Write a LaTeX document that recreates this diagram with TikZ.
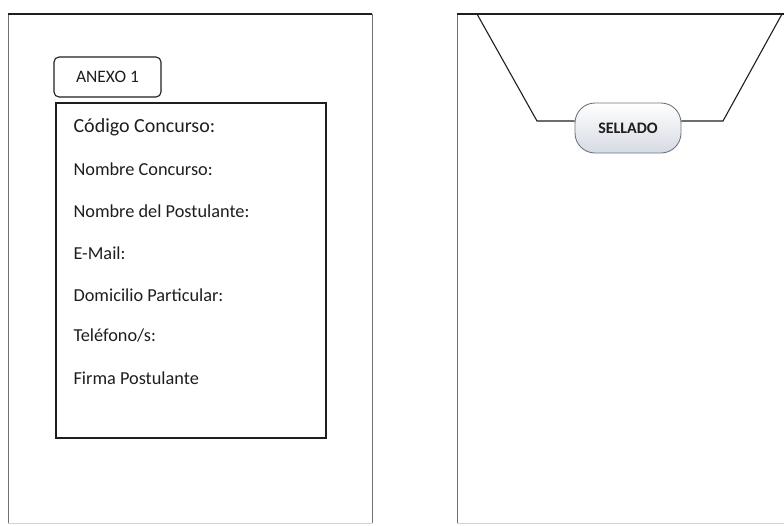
\documentclass[tikz,border=0pt]{standalone}
\usepackage{fontspec}
\setmainfont{Carlito}
\usepackage{tikz}
\usetikzlibrary{shapes,positioning}

\definecolor{borde}{RGB}{112,112,112}
\definecolor{tinta}{RGB}{30,30,30}
\definecolor{sellogris}{RGB}{214,218,226}
\definecolor{sellobord}{RGB}{110,118,130}

\tikzset{
  campo/.style={anchor=west, inner sep=0pt, text=tinta, font=\fontsize{18.3}{21}\selectfont},
  sello/.style={draw=sellobord, line width=0.9pt, rounded corners=20pt, top color=white, bottom color=sellogris, minimum width=106pt, minimum height=50pt, inner sep=0pt, text=tinta, font=\bfseries\fontsize{16}{19}\selectfont}
}

\begin{document}
\begin{tikzpicture}[x=1pt, y=-1pt, line width=1.1pt, every text node part/.style={align=center}]
\useasboundingbox (0,0) rectangle (784,525);

\draw[borde, line width=0.9pt] (8,14) -- (8,523);
\draw[borde, line width=0.9pt] (372,14) -- (372,523);
\draw[tinta] (8,14) -- (372,14);
\draw[gray!35, line width=0.8pt] (8,523) -- (372,523);

\draw[borde, line width=1pt] (457,14) -- (457,523);
\draw[tinta] (457,14) -- (784,14);
\draw[gray!35, line width=0.8pt] (457,523) -- (784,523);

\draw
  node (anexo) at (107.5,77)[draw=tinta, rounded corners=5pt, minimum width=107pt, minimum height=40pt, text=tinta, font=\fontsize{17.5}{20}\selectfont]{ANEXO 1}
  node (ficha) at (191,270.5)[draw=tinta, minimum width=270pt, minimum height=335pt]{}
  node (codigo) at (73,127)[campo, font=\fontsize{20}{23}\selectfont]{Código Concurso:}
  node (nombre) at (73,169)[campo]{Nombre Concurso:}
  node (postulante) at (73,211)[campo]{Nombre del Postulante:}
  node (mail) at (73,253)[campo]{E-Mail:}
  node (domicilio) at (73,295)[campo]{Domicilio Particular:}
  node (telefono) at (73,336)[campo]{Teléfono/s:}
  node (firma) at (73,378)[campo]{Firma Postulante};

\node (sellado) at (628,128)[sello]{SELLADO};
\coordinate (solapaI) at (477,14);
\coordinate (quiebreI) at (537,121);
\coordinate (solapaD) at (782,14);
\coordinate (quiebreD) at (723,121);
\draw[tinta] (solapaI) -- (quiebreI) -- (quiebreI -| sellado.west);
\draw[tinta] (sellado.east |- quiebreD) -- (quiebreD) -- (solapaD);
\end{tikzpicture}
\end{document}
